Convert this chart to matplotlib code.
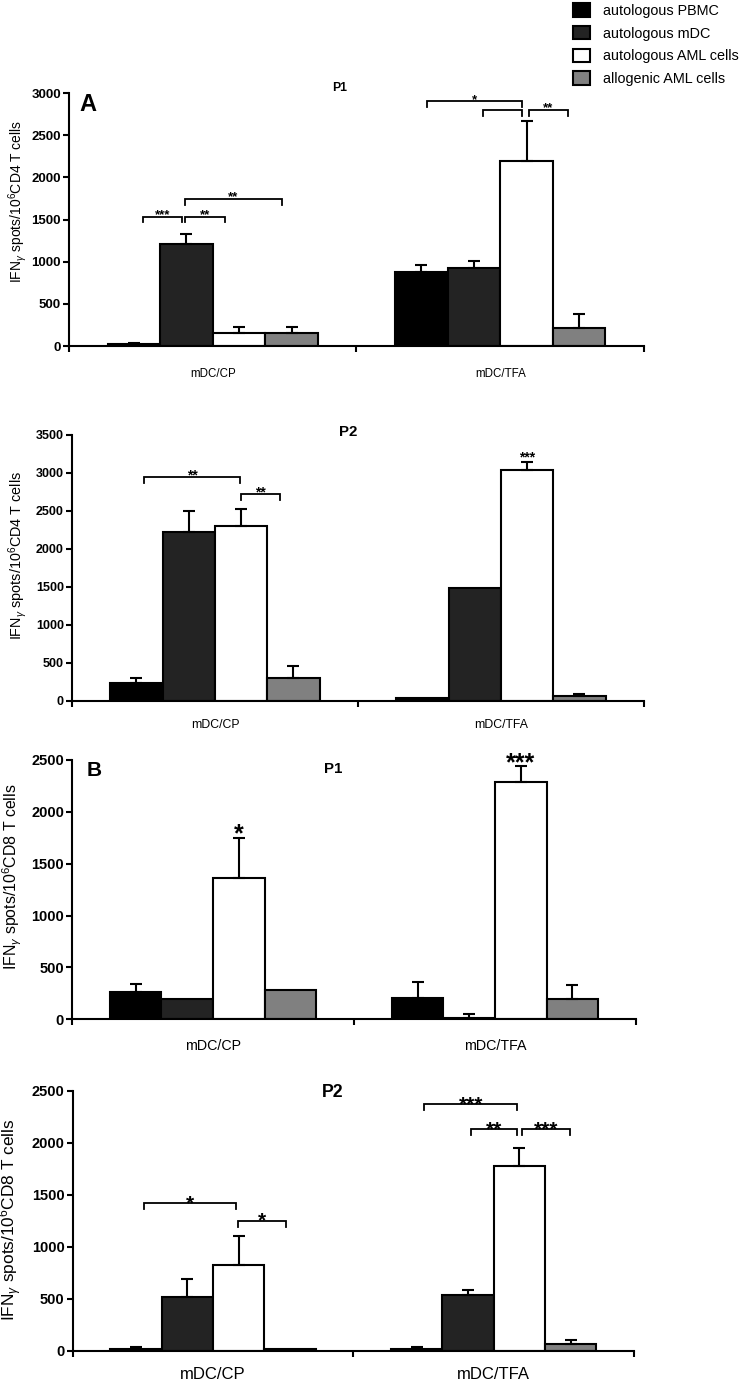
import numpy as np
import matplotlib.pyplot as plt
from matplotlib.patches import Patch

plt.rcParams['font.family'] = ['Liberation Sans', 'DejaVu Sans']
plt.rcParams['mathtext.fontset'] = 'custom'
plt.rcParams['mathtext.rm'] = 'Liberation Sans'
plt.rcParams['mathtext.it'] = 'Liberation Sans:italic'
plt.rcParams['mathtext.bf'] = 'Liberation Sans:bold'

# series and groups
series = ['autologous PBMC', 'autologous mDC', 'autologous AML cells', 'allogenic AML cells']
colors = ['#000000', '#232323', '#ffffff', '#808080']
groups = ['mDC/CP', 'mDC/TFA']

# panel A, P1 (CD4)
a1_vals = [[25, 1210, 154, 150], [881, 925, 2195, 213]]
a1_err = [[15, 122, 75, 79], [76, 83, 475, 167]]
# panel A, P2 (CD4)
a2_vals = [[229, 2219, 2302, 295], [40, 1481, 3040, 65]]
a2_err = [[74, 281, 224, 162], [0, 0, 110, 25]]
# panel B, P1 (CD8)
b1_vals = [[266, 192, 1360, 281], [208, 15, 2285, 199]]
b1_err = [[78, 0, 391, 0], [155, 33, 158, 132]]
# panel B, P2 (CD8)
b2_vals = [[15, 514, 825, 20], [20, 536, 1778, 64]]
b2_err = [[24, 173, 282, 0], [15, 45, 171, 42]]

# brackets: (group, from bar, to bar, height, label)
a1_brackets = [(0, 0.17, 0.91, 1535, '***'), (0, 0.97, 1.73, 1535, '**'),
               (0, 0.97, 2.82, 1745, '**'), (1, 0.11, 1.92, 2906, '*'),
               (1, 1.17, 1.92, 2800, ''), (1, 2.04, 2.78, 2800, '**')]
a2_brackets = [(0, 0.15, 1.97, 2943, '**'), (0, 2.0, 2.74, 2720, '**')]
b1_brackets = []
b2_brackets = [(0, 0.16, 1.95, 1419, '*'), (0, 1.98, 2.92, 1251, '*'),
               (1, 0.15, 1.96, 2375, '***'), (1, 1.06, 1.95, 2134, '**'),
               (1, 2.06, 2.98, 2134, '***')]
# stars over single bars: (group, bar, height, label)
a1_stars = []
a2_stars = [(1, 2, 3263, '***')]
b1_stars = [(0, 2, 1857, '*'), (1, 2, 2539, '***')]
b2_stars = []

ylabels = ['IFN$_{\\gamma}$ spots/10$^{6}$CD4 T cells', 'IFN$_{\\gamma}$ spots/10$^{6}$CD4 T cells',
           'IFN$_{\\gamma}$ spots/10$^{6}$CD8 T cells', 'IFN$_{\\gamma}$ spots/10$^{6}$CD8 T cells']
titles = ['P1', 'P2', 'P1', 'P2']
ytops = [3000, 3500, 2500, 2500]

panels = [
    dict(vals=a1_vals, err=a1_err, br=a1_brackets, st=a1_stars, pos=[0.0930, 0.7498, 0.7749, 0.1829],
         tick=9.5, ylab=10, ylc=(-0.0896, 0.571), xlab=8.3, xpad=16, tit=8.8, tpos=(0.471, 1.02),
         star=9.5, sstar=9.5, letter=('A', 17, 0.033, 0.953)),
    dict(vals=a2_vals, err=a2_err, br=a2_brackets, st=a2_stars, pos=[0.0970, 0.4934, 0.7709, 0.1921],
         tick=9, ylab=10.4, ylc=(-0.0953, 0.548), xlab=8.8, xpad=13, tit=10.8, tpos=(0.483, 1.011),
         star=10, sstar=10, letter=None),
    dict(vals=b1_vals, err=b1_err, br=b1_brackets, st=b1_stars, pos=[0.0970, 0.2630, 0.7601, 0.1875],
         tick=10.5, ylab=11.4, ylc=(-0.1055, 0.551), xlab=10.3, xpad=14, tit=10.8, tpos=(0.463, 0.965),
         star=16, sstar=18, letter=('B', 15, 0.039, 0.961)),
    dict(vals=b2_vals, err=b2_err, br=b2_brackets, st=b2_stars, pos=[0.0980, 0.0234, 0.7564, 0.1878],
         tick=10.5, ylab=12.4, ylc=(-0.1108, 0.502), xlab=12, xpad=11.7, tit=12.7, tpos=(0.464, 0.992),
         star=15, sstar=15, letter=None),
]

w = 0.183
lw = 1.5

fig = plt.figure(figsize=(7.42, 13.83), dpi=100)

for k, p in enumerate(panels):
    ax = fig.add_axes(p['pos'])
    top = ytops[k]
    for g in range(2):
        xs = g + 0.5 + (np.arange(4) - 1.5) * w
        vals = np.array(p['vals'][g])
        errs = np.array(p['err'][g])
        ax.bar(xs, vals, width=w, color=colors, edgecolor='black', linewidth=lw, zorder=2)
        m = errs > 0
        ax.errorbar(xs[m], vals[m], yerr=[np.zeros(m.sum()), errs[m]], fmt='none',
                    ecolor='black', elinewidth=lw, capsize=4, capthick=lw, zorder=3)
    tl = top * 0.023
    for g, b0, b1, y, lab in p['br']:
        x0 = g + 0.5 + (b0 - 1.5) * w
        x1 = g + 0.5 + (b1 - 1.5) * w
        ax.plot([x0, x0, x1, x1], [y - tl, y, y, y - tl], color='black', lw=1.3,
                solid_joinstyle='miter', clip_on=False, zorder=4)
        if lab:
            ax.annotate(lab, ((x0 + x1) / 2, y), xytext=(0, 4.3 - 0.58 * p['star']),
                        textcoords='offset points', ha='center', va='baseline',
                        fontsize=p['star'], fontweight='bold', annotation_clip=False)
    for g, b, y, lab in p['st']:
        x = g + 0.5 + (b - 1.5) * w
        ax.annotate(lab, (x, y), xytext=(0, -0.58 * p['sstar']), textcoords='offset points',
                    ha='center', va='baseline', fontsize=p['sstar'], fontweight='bold',
                    annotation_clip=False)

    ax.set_xlim(0, 2)
    ax.set_ylim(0, top)
    ax.set_yticks(np.arange(0, top + 1, 500))
    ax.set_xticks([0.5, 1.5])
    ax.set_xticklabels(groups, fontsize=p['xlab'])
    ax.set_xticks([0, 1, 2], minor=True)
    ax.tick_params(axis='x', which='major', length=0, pad=p['xpad'])
    ax.tick_params(axis='x', which='minor', length=4.3, width=lw, direction='out')
    ax.tick_params(axis='y', length=4.3, width=lw, direction='out', pad=1.5, labelsize=p['tick'])
    for t in ax.get_yticklabels():
        t.set_fontweight('bold')
    for s in ['top', 'right']:
        ax.spines[s].set_visible(False)
    for s in ['left', 'bottom']:
        ax.spines[s].set_linewidth(lw)
    ax.set_ylabel(ylabels[k], fontsize=p['ylab'], va='center')
    ax.yaxis.set_label_coords(*p['ylc'])
    ax.text(p['tpos'][0], p['tpos'][1], titles[k], transform=ax.transAxes, ha='center', va='center',
            fontsize=p['tit'], fontweight='bold')
    if p['letter']:
        L, fs, lx, ly = p['letter']
        ax.text(lx, ly, L, transform=ax.transAxes, ha='center', va='center', fontsize=fs,
                fontweight='bold')

handles = [Patch(facecolor=c, edgecolor='black', linewidth=lw) for c in colors]
fig.legend(handles, series, loc='upper left', bbox_to_anchor=(0.772, 0.9975), frameon=False,
           fontsize=10.4, borderpad=0, borderaxespad=0, handlelength=1.18, handleheight=1.04,
           handletextpad=0.9, labelspacing=0.56)

fig.savefig('out.png', dpi=100)
